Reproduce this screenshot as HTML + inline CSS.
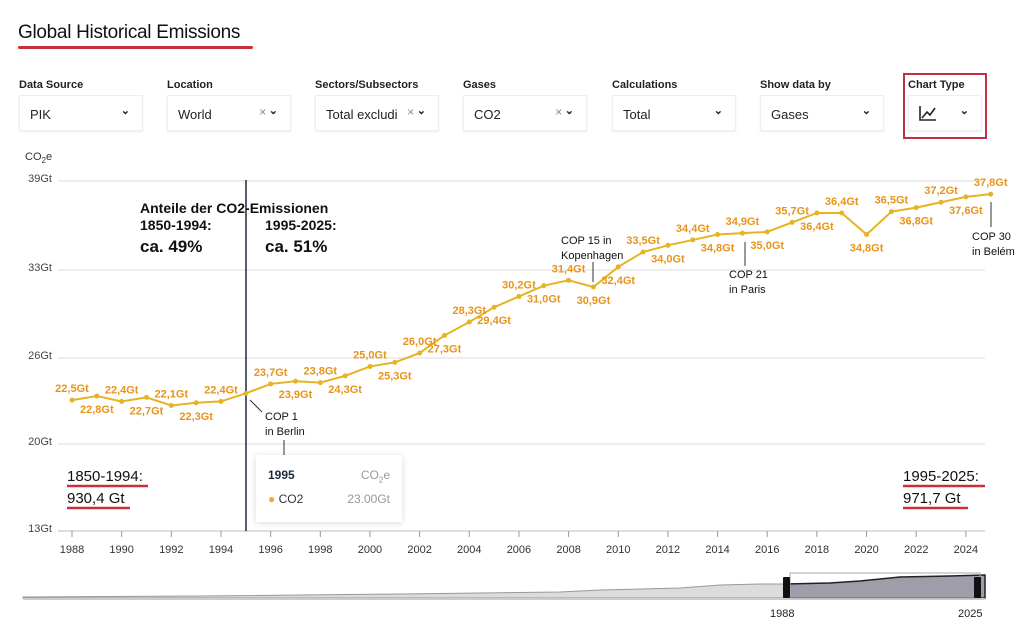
<!DOCTYPE html>
<html><head><meta charset="utf-8"><style>
body{margin:0;width:1030px;height:643px;background:#fff;font-family:"Liberation Sans",sans-serif;overflow:hidden;position:relative}
.t{position:absolute}
.sel{position:absolute;top:95px;width:122px;height:34px;border:1px solid #eceef0;box-shadow:0 1px 2px rgba(0,0,0,.08);font-size:13px;color:#222}
.sel span{position:absolute;left:10px;top:11px}
.lab{position:absolute;top:79px;font-size:11px;font-weight:bold;color:#222}
.ch{position:absolute;right:12px;top:8px;font-size:11px;font-weight:bold}
.x{position:absolute;right:24px;top:9px;font-size:12px;color:#888}
</style></head><body>
<div class="t" style="left:18px;top:22px;font-size:19px;color:#111;letter-spacing:-0.3px">Global Historical Emissions</div>
<div class="t" style="left:18px;top:46px;width:235px;height:3px;background:#c9303a;border-radius:2px"></div>
<div class="lab" style="left:19px">Data Source</div><div class="sel" style="left:19px"><span>PIK</span><b class="ch">⌄</b></div>
<div class="lab" style="left:167px">Location</div><div class="sel" style="left:167px"><span>World</span><i class="x">×</i><b class="ch">⌄</b></div>
<div class="lab" style="left:315px">Sectors/Subsectors</div><div class="sel" style="left:315px"><span>Total excludi</span><i class="x">×</i><b class="ch">⌄</b></div>
<div class="lab" style="left:463px">Gases</div><div class="sel" style="left:463px"><span>CO2</span><i class="x">×</i><b class="ch">⌄</b></div>
<div class="lab" style="left:612px">Calculations</div><div class="sel" style="left:612px"><span>Total</span><b class="ch">⌄</b></div>
<div class="lab" style="left:760px">Show data by</div><div class="sel" style="left:760px"><span>Gases</span><b class="ch">⌄</b></div>
<div class="t" style="left:903px;top:73px;width:84px;height:66px;border:2px solid #c03040;box-sizing:border-box"></div>
<div class="lab" style="left:908px">Chart Type</div>
<div class="sel" style="left:908px;width:72px"><svg style="position:absolute;left:10px;top:9px" width="18" height="16"><path d="M1 1V15H17M3 13L8 7L11 10L16 3" fill="none" stroke="#222" stroke-width="1.6"/></svg><b class="ch">⌄</b></div>
<svg id="s" class="t" style="left:0;top:0" width="1030" height="643"></svg>
<div class="t" style="left:256px;top:455px;width:146px;height:67px;background:#fff;box-shadow:0 1px 6px rgba(0,0,0,.15);font-size:12px">
<b style="position:absolute;left:12px;top:13px;color:#1a2a3a">1995</b><span style="position:absolute;right:12px;top:13px;color:#999">CO<sub style="font-size:8px">2</sub>e</span>
<span style="position:absolute;left:12px;top:37px;color:#333"><span style="color:#e6b020">●</span> CO2</span><span style="position:absolute;right:12px;top:37px;color:#999">23.00Gt</span></div>
<script>
var s=document.getElementById('s'),h='';
function X(y){return 72+(y-1988)*24.83}function Y(v){return 178+(39-v)*13.46}
h+='<text x="25" y="160" font-size="11" fill="#333">CO<tspan font-size="8" dy="3">2</tspan><tspan dy="-3">e</tspan></text>';
[[39,178],[33,267],[26,355],[20,441],[13,528]].forEach(function(a){h+='<line x1="58" x2="985" y1="'+(a[1]+3)+'" y2="'+(a[1]+3)+'" stroke="'+(a[0]==13?'#bbb':'#ddd')+'"/><text x="52" y="'+(a[1]+4)+'" font-size="11" fill="#444" text-anchor="end">'+a[0]+'Gt</text>'});
for(var y=1988;y<=2024;y+=2){h+='<line x1="'+X(y)+'" x2="'+X(y)+'" y1="531" y2="537" stroke="#999"/><text x="'+X(y)+'" y="553" font-size="11" fill="#333" text-anchor="middle">'+y+'</text>'}
var d=[[22.5,1],[22.8,0],[22.4,1],[22.7,0],[22.1,1],[22.3,0],[22.4,1],[23.0,-1],[23.7,1],[23.9,0],[23.8,1],[24.3,0],[25.0,1],[25.3,0],[26.0,1],[27.3,0],[28.3,1],[29.4,0],[30.2,1],[31.0,0],[31.4,1],[30.9,0],[32.4,0],[33.5,1],[34.0,0],[34.4,1],[34.8,0],[34.9,1],[35.0,0],[35.7,1],[36.4,0],[36.4,1],[34.8,0],[36.5,1],[36.8,0],[37.2,1],[37.6,0],[37.8,1]];
var p='';d.forEach(function(a,i){p+=(i?'L':'M')+X(1988+i)+' '+Y(a[0])});
h+='<line x1="246" x2="246" y1="180" y2="531" stroke="#1a2a3a" stroke-width="1.5"/>';
h+='<path d="'+p+'" fill="none" stroke="#e6b422" stroke-width="2"/>';
d.forEach(function(a,i){var x=X(1988+i),yy=Y(a[0]);h+='<circle cx="'+x+'" cy="'+yy+'" r="2.5" fill="#e6b422"/>';
if(a[1]>=0)h+='<text x="'+x+'" y="'+(a[1]?yy-8:yy+17)+'" font-size="11" font-weight="bold" fill="#e8941a" text-anchor="middle">'+a[0].toFixed(1).replace('.',',')+'Gt</text>'});
function T(x,y,t,sz,w){h+='<text x="'+x+'" y="'+y+'" font-size="'+(sz||11)+'" fill="#111" font-weight="'+(w||'normal')+'">'+t+'</text>'}
T(140,213,'Anteile der CO2-Emissionen',14,'bold');T(140,230,'1850-1994:',14,'bold');T(265,230,'1995-2025:',14,'bold');T(140,252,'ca. 49%',17,'bold');T(265,252,'ca. 51%',17,'bold');
T(265,420,'COP 1');T(265,435,'in Berlin');h+='<line x1="284" x2="284" y1="440" y2="462" stroke="#333"/><line x1="250" x2="262" y1="400" y2="412" stroke="#333"/>';
T(561,244,'COP 15 in');T(561,259,'Kopenhagen');h+='<line x1="593" x2="593" y1="262" y2="282" stroke="#333"/>';
T(729,278,'COP 21');T(729,293,'in Paris');h+='<line x1="745" x2="745" y1="242" y2="266" stroke="#333"/>';
T(972,240,'COP 30');T(972,255,'in Belém');h+='<line x1="991" x2="991" y1="202" y2="227" stroke="#333"/>';
T(67,481,'1850-1994:',15);T(67,503,'930,4 Gt',15);T(903,481,'1995-2025:',15);T(903,503,'971,7 Gt',15);
[[67,148,486],[67,130,508],[903,985,486],[903,968,508]].forEach(function(a){h+='<line x1="'+a[0]+'" x2="'+a[1]+'" y1="'+a[2]+'" y2="'+a[2]+'" stroke="#c9303a" stroke-width="2.5"/>'});
h+='<path d="M23 598L23 597L200 596L400 594L480 593L560 592L600 590L680 588L720 585L760 584L785 584L785 598Z" fill="#dcdcdf" stroke="#999"/>';
h+='<path d="M785 584L830 583L860 581L900 577L950 576L985 575L985 598L785 598Z" fill="#9e9eab" stroke="#222" stroke-width="1.5"/>';
h+='<line x1="23" x2="985" y1="599" y2="599" stroke="#ccc" stroke-width="2"/><rect x="790" y="573" width="190" height="25" fill="none" stroke="#aaa"/>';
h+='<rect x="783" y="577" width="7" height="21" fill="#111" rx="1"/><rect x="974" y="577" width="7" height="21" fill="#111" rx="1"/>';
h+='<text x="770" y="617" font-size="11" fill="#222">1988</text><text x="958" y="617" font-size="11" fill="#222">2025</text>';
s.innerHTML=h;
</script>
</body></html>
